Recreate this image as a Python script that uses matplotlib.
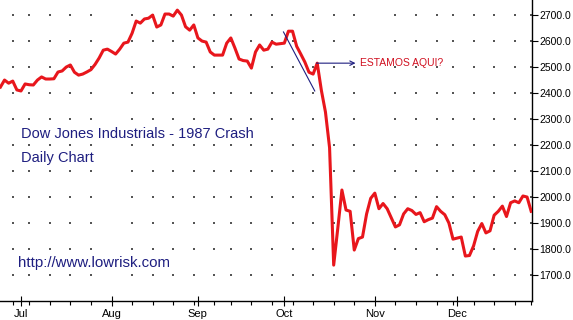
import matplotlib
matplotlib.use("Agg")
import matplotlib.pyplot as plt
from matplotlib.ticker import FixedLocator, FormatStrFormatter

# trading day index: 0 = 1 Jul 1987, negative = late June
first_day = -5
closes = [
    2423, 2450, 2438, 2446, 2412,                                 # Jun 24 - Jun 30
    2408, 2435, 2432, 2431, 2450, 2462, 2454, 2454, 2455, 2481,   # Jul
    2485, 2500, 2508, 2480, 2469, 2473, 2481, 2490, 2510, 2535,
    2565, 2569,
    2560, 2550, 2569, 2592, 2596, 2630, 2677, 2669, 2685, 2688,   # Aug
    2700, 2654, 2662, 2704, 2704, 2696, 2719, 2700, 2655, 2642,
    2662,
    2612, 2600, 2596, 2558, 2546, 2546, 2546, 2592, 2612, 2573,   # Sep
    2531, 2525, 2523, 2496, 2558, 2585, 2565, 2569, 2596, 2588,
    2590,
    2592, 2638, 2638, 2580, 2550, 2519, 2480, 2473, 2515, 2411,   # Oct
    2327, 2190, 1738, 1880, 2027, 1950, 1945, 1796, 1840, 1846,
    1935, 1995,
    2015, 1955, 1975, 1955, 1920, 1885, 1893, 1935, 1955, 1948,   # Nov
    1933, 1940, 1905, 1913, 1919, 1963, 1945, 1932, 1900, 1838,
    1842, 1846, 1773, 1775, 1812, 1868, 1898, 1862, 1870, 1930,   # Dec
    1945, 1965, 1925, 1978, 1985, 1978, 2004, 2000, 1945,
]
days = list(range(first_day, first_day + len(closes)))

month_days = [0, 22, 43, 64, 86, 106]
month_labels = ["Jul", "Aug", "Sep", "Oct", "Nov", "Dec"]
week_days = [-2, 2, 7, 12, 17, 22, 27, 32, 37, 42, 47, 51, 56, 61, 66, 71,
             76, 81, 86, 91, 96, 101, 105, 110, 115, 120, 124]
price_levels = [1700, 1800, 1900, 2000, 2100, 2200, 2300, 2400, 2500, 2600, 2700]

trend_x = [63.8, 71.4]
trend_y = [2635, 2408]
arrow_from = (71.8, 2515)
arrow_to = (81.3, 2515)

navy = "#1e1e80"
plt.rcParams["font.family"] = ["Liberation Sans", "DejaVu Sans"]

fig = plt.figure(figsize=(5.73, 3.20), dpi=100)
ax = fig.add_axes([0.0, 19 / 320, 532 / 573, 301 / 320])

ax.plot(days, closes, color="#e8161c", linewidth=2.2, solid_joinstyle="round", zorder=3)
ax.plot(trend_x, trend_y, color=navy, linewidth=0.8, zorder=4)

ax.set_xlim(-5.1, 124.2)
ax.set_ylim(1600, 2758)

ax.xaxis.set_major_locator(FixedLocator(month_days))
ax.xaxis.set_minor_locator(FixedLocator(week_days))
ax.set_xticklabels(month_labels)
ax.yaxis.set_major_locator(FixedLocator(price_levels))
ax.yaxis.set_major_formatter(FormatStrFormatter("%.1f"))
ax.yaxis.tick_right()

ax.tick_params(axis="x", which="major", direction="inout", length=7, width=0.8,
               labelsize=8, pad=2)
ax.tick_params(axis="x", which="minor", direction="out", length=3, width=0.8)
ax.tick_params(axis="y", which="major", direction="out", length=4, width=0.8,
               labelsize=7.5, pad=1)

for side in ["left", "top"]:
    ax.spines[side].set_visible(False)
for side in ["right", "bottom"]:
    ax.spines[side].set_linewidth(1.0)
    ax.spines[side].set_color("black")

# dotted grid: dots where weekly ticks meet the price levels
gx = [x for x in ax.xaxis.get_minorticklocs() for _ in ax.yaxis.get_majorticklocs()]
gy = [y for _ in ax.xaxis.get_minorticklocs() for y in ax.yaxis.get_majorticklocs()]
ax.scatter(gx, gy, s=0.9, marker="s", color="#555555", linewidths=0, zorder=1)

ax.annotate("", xy=arrow_to, xytext=arrow_from,
            arrowprops=dict(arrowstyle="->", color=navy, lw=0.8,
                            shrinkA=0, shrinkB=0, mutation_scale=8))
ax.text(82.5, 2515, "ESTAMOS AQUI?", color="#d01020", fontsize=7.5,
        va="center", ha="left")

ax.text(0.040, 0.555, "Dow Jones Industrials - 1987 Crash", transform=ax.transAxes,
        color=navy, fontsize=10.5, va="center", ha="left")
ax.text(0.040, 0.475, "Daily Chart", transform=ax.transAxes,
        color=navy, fontsize=10.5, va="center", ha="left")
ax.text(0.034, 0.127, "http://www.lowrisk.com", transform=ax.transAxes,
        color=navy, fontsize=10.8, va="center", ha="left")

fig.savefig("out.png", dpi=100)
